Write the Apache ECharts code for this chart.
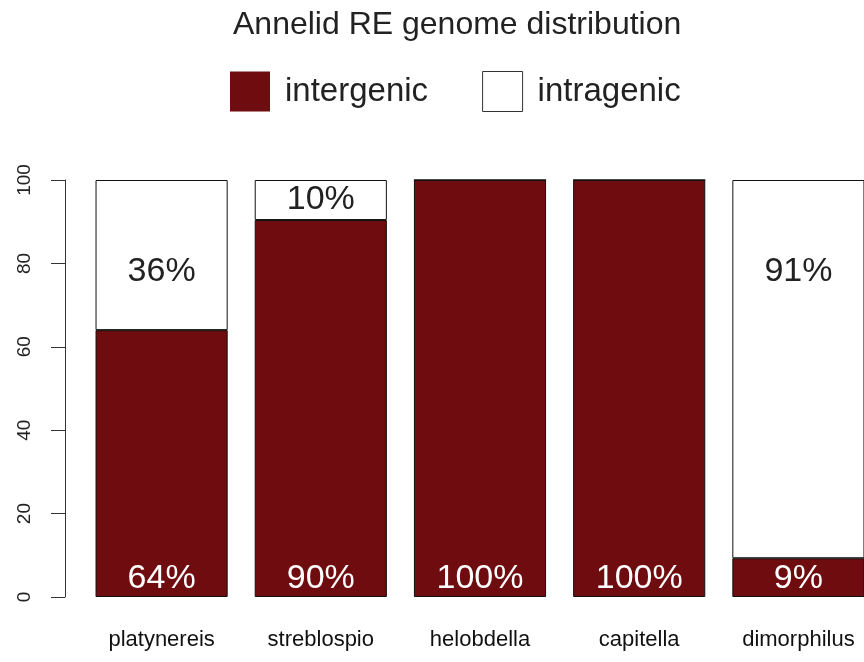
<!DOCTYPE html>
<html>
<head>
    <meta charset="utf-8" />
    <title>Annelid RE genome distribution</title>
    <style>
        html, body { margin: 0; padding: 0; background: #fff; }
        #chart { width: 864px; height: 662px; }
    </style>
</head>
<body>
    <div id="chart"></div>
    <script src="https://cdn.jsdelivr.net/npm/echarts@6/dist/echarts.min.js"></script>
<script>
    // data (percent of REs)
    var species = ["platynereis", "streblospio", "helobdella", "capitella", "dimorphilus"];
    var intergenic = [64, 90.4, 100, 100, 9.3];
    var intragenic = [36, 9.6, 0, 0, 90.7];
    var yTicks = [0, 20, 40, 60, 80, 100];

    var RED = "#6e0c10";
    var FONT = "Liberation Sans, Arial, Helvetica, sans-serif";

    // bottom labels sit near the base, top labels high up (or centred if the piece is small)
    var interData = intergenic.map(function (v) {
        return {
            value: v,
            label: { show: v > 0, position: "insideBottom", distance: 1 }
        };
    });
    var intraData = intragenic.map(function (v) {
        var small = v < 20;
        return {
            value: v,
            label: {
                show: v > 0,
                position: small ? "inside" : "insideTop",
                distance: small ? 5 : 75
            }
        };
    });

    var chart = echarts.init(document.getElementById("chart"));
    chart.setOption({
        animation: false,
        textStyle: { fontFamily: FONT },
        title: {
            text: "Annelid RE genome distribution",
            left: 228,
            top: 4,
            textStyle: { fontSize: 32, fontWeight: "normal", color: "#222", fontFamily: FONT }
        },
        legend: {
            top: 66,
            left: 225,
            itemWidth: 40,
            itemHeight: 40,
            itemGap: 54,
            textStyle: { fontSize: 33, color: "#222", padding: [0, 0, 0, 10], fontFamily: FONT },
            data: [
                { name: "intergenic", icon: "rect", itemStyle: { color: RED, borderWidth: 0 } },
                { name: "intragenic", icon: "rect", itemStyle: { color: "#fff", borderColor: "#333", borderWidth: 1 } }
            ]
        },
        grid: { left: 82, top: 180, width: 796, bottom: 65, outerBoundsMode: "none", containLabel: false },
        xAxis: {
            type: "category",
            data: species,
            axisLine: { show: false },
            axisTick: { show: false },
            axisLabel: {
                margin: 32,
                fontSize: 22,
                color: "#111",
                fontFamily: FONT
            }
        },
        yAxis: {
            type: "value",
            min: 0,
            max: 100,
            interval: 20,
            offset: 17,
            splitLine: { show: false },
            axisLine: { show: true, lineStyle: { color: "#333", width: 1 } },
            axisTick: { show: true, length: 14, lineStyle: { color: "#333" } },
            axisLabel: {
                rotate: 90,
                margin: 31,
                fontSize: 19,
                color: "#222",
                fontFamily: FONT,
                formatter: function (v) { return yTicks.indexOf(v) >= 0 ? String(v) : ""; }
            }
        },
        series: [
            {
                name: "intergenic",
                type: "bar",
                stack: "all",
                barCategoryGap: "17%",
                data: interData,
                itemStyle: { color: RED, borderColor: "#111", borderWidth: 1 },
                label: {
                    color: "#fff",
                    fontSize: 34,
                    fontFamily: FONT,
                    formatter: function (p) { return Math.round(p.value) + "%"; }
                }
            },
            {
                name: "intragenic",
                type: "bar",
                stack: "all",
                data: intraData,
                itemStyle: { color: "#fff", borderColor: "#111", borderWidth: 1 },
                label: {
                    color: "#222",
                    fontSize: 34,
                    fontFamily: FONT,
                    formatter: function (p) { return Math.round(p.value) + "%"; }
                }
            }
        ]
    });
</script>
</body>
</html>
